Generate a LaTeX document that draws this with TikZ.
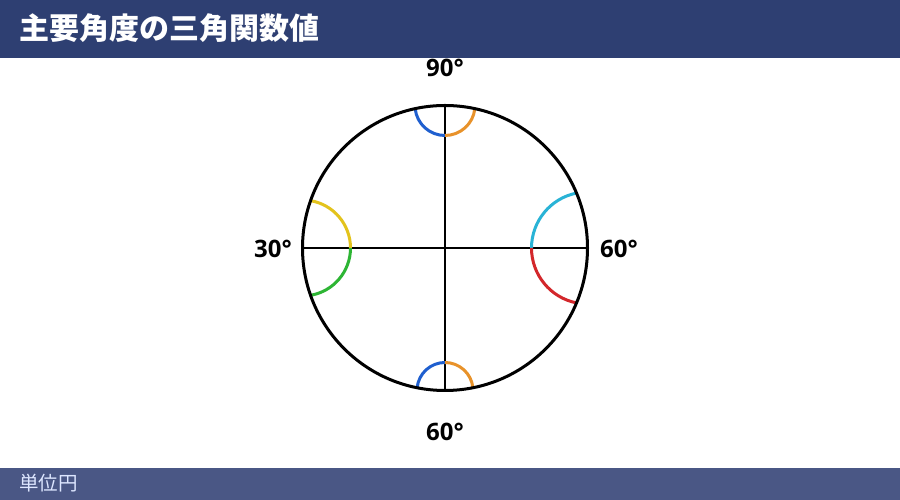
\documentclass[tikz,border=0pt]{standalone}
\usepackage{fontspec}
\setmainfont{Open Sans}[BoldFont={Open Sans Bold}]
\newfontfamily\cjk{Noto Sans CJK JP}
\begin{document}
\begin{tikzpicture}[x=1pt,y=1pt,
  ring/.style={line width=3pt,black},
  axis/.style={line width=2.6pt,black},
  arcline/.style={line width=3pt},
  deg/.style={font=\bfseries\fontsize{24}{28}\selectfont,text=black,inner sep=0pt}]
\definecolor{hdr}{HTML}{2E3F72}
\definecolor{ftr}{HTML}{4A5785}
\definecolor{ftxt}{HTML}{DDE6FF}
\definecolor{cblue}{HTML}{1F5FCF}
\definecolor{corange}{HTML}{E8922A}
\definecolor{cyellow}{HTML}{E3C31C}
\definecolor{cgreen}{HTML}{2DB534}
\definecolor{ccyan}{HTML}{29B3D6}
\definecolor{cred}{HTML}{D3272B}
\useasboundingbox (0,0) rectangle (900,500);
\fill[white] (0,0) rectangle (900,500);
% header and footer
\fill[hdr] (0,442) rectangle (900,500);
\node[anchor=west,text=white,font=\cjk\bfseries\fontsize{30}{33}\selectfont,inner sep=0pt] (title) at (19,472) {主要角度の三角関数値};
\fill[ftr] (0,0) rectangle (900,32);
\node[anchor=west,text=ftxt,font=\cjk\fontsize{19.5}{22}\selectfont,inner sep=0pt] (foot) at (19,17) {単位円};
% circle
\coordinate (O) at (445,252);
\coordinate (T) at (445,394.5);
\coordinate (B) at (445,109.5);
\coordinate (L) at (302.5,252);
\coordinate (R) at (587.5,252);
\draw[axis] (L) -- (R);
\draw[axis] (T) -- (B);
% arcs
\draw[arcline,cblue] (T) ++(186.04:30) arc[start angle=186.04,end angle=270,radius=30];
\draw[arcline,corange] (T) ++(270:30) arc[start angle=270,end angle=353.96,radius=30];
\draw[arcline,cblue] (B) ++(90:28) arc[start angle=90,end angle=174.36,radius=28];
\draw[arcline,corange] (B) ++(5.64:28) arc[start angle=5.64,end angle=90,radius=28];
\draw[arcline,cyellow] (L) ++(0:48) arc[start angle=0,end angle=80.3,radius=48];
\draw[arcline,cgreen] (L) ++(-80.3:48) arc[start angle=-80.3,end angle=0,radius=48];
\draw[arcline,ccyan] (R) ++(101.33:56) arc[start angle=101.33,end angle=180,radius=56];
\draw[arcline,cred] (R) ++(180:56) arc[start angle=180,end angle=258.67,radius=56];
\draw[ring] (O) circle[radius=142.5];
% labels
\node[deg] (l90) at (445,432) {90°};
\node[deg] (l30) at (273,251) {30°};
\node[deg] (l60r) at (619,251) {60°};
\node[deg] (l60b) at (445,68) {60°};
\end{tikzpicture}
\end{document}
